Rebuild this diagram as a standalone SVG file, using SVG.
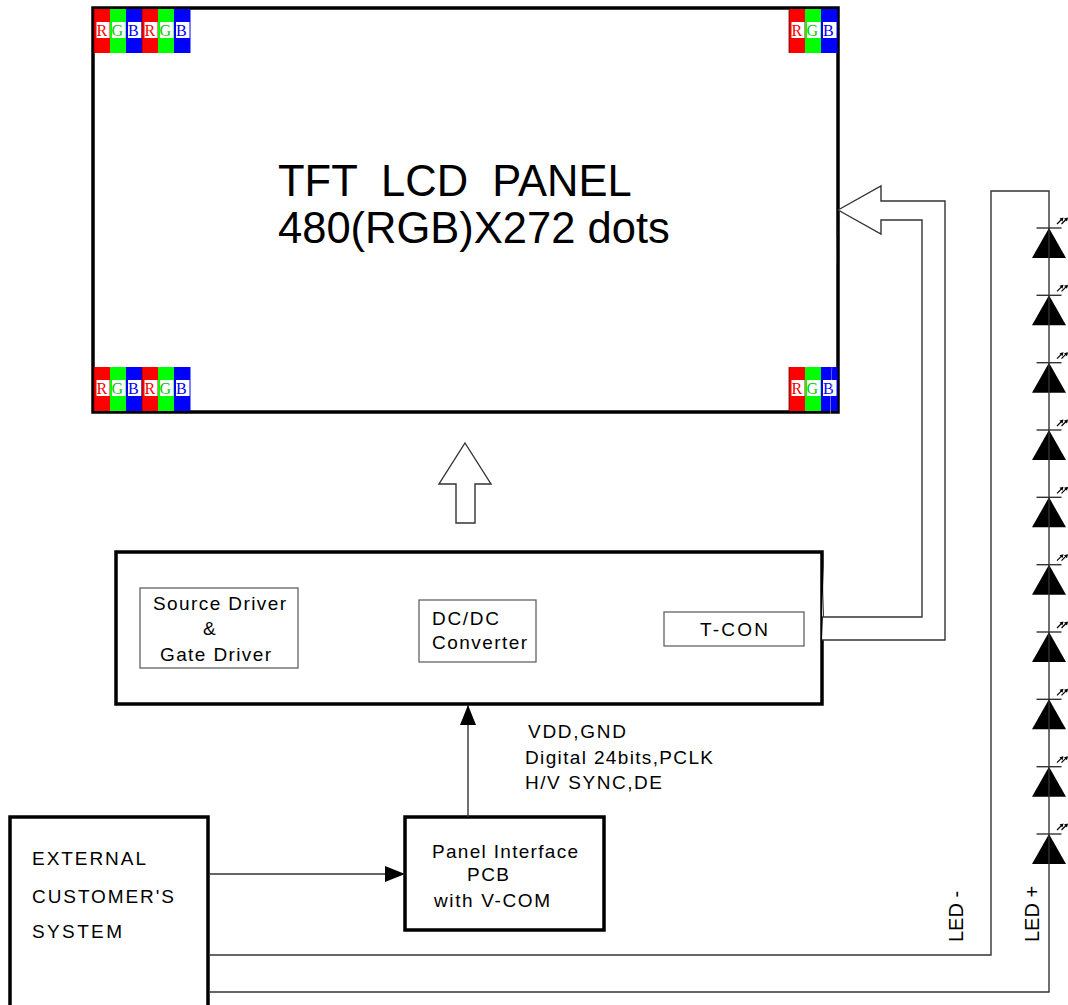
<svg xmlns="http://www.w3.org/2000/svg" xmlns:xlink="http://www.w3.org/1999/xlink" width="1068" height="1005" viewBox="0 0 1068 1005">
<style>
text{font-family:"Liberation Sans",Arial,sans-serif;fill:#000}
.t18{font-size:19px}
.big{font-size:43.5px;white-space:pre}
.led{font-size:20px}
.thick{fill:#fff;stroke:#000;stroke-width:3.5}
.thin{fill:#fff;stroke:#555;stroke-width:1.2}
.wire{fill:none;stroke:#333;stroke-width:1.4}
.hollow{fill:#fff;stroke:#333;stroke-width:1.4}
.px{font-family:"Liberation Serif","Times New Roman",serif;font-size:16px}
</style>
<defs>
<g id="rgb">
<rect x="0" y="0" width="16" height="44" fill="#f00"/>
<rect x="16" y="0" width="16" height="44" fill="#0f0"/>
<rect x="32" y="0" width="16.5" height="44" fill="#00f"/>
<rect x="2.5" y="13" width="13" height="16" fill="#fff"/>
<rect x="18" y="13" width="13.5" height="16" fill="#fff"/>
<rect x="34" y="13" width="13.5" height="16" fill="#fff"/>
<text class="px" x="2.5" y="27" style="fill:#f00">R</text>
<text class="px" x="17.5" y="27" style="fill:#0c0">G</text>
<text class="px" x="34" y="27" style="fill:#00f">B</text>
<line x1="0" y1="0" x2="0" y2="44" stroke="#600" stroke-width="0.8"/>
</g>
<g id="diode">
<line x1="-12.5" y1="0" x2="12.5" y2="0" stroke="#333" stroke-width="1.4"/>
<polygon points="0,0 -17,30 17,30" fill="#000"/>
<path d="M8,-4 L13.5,-9.5 M12.5,-4 L18,-9.5" stroke="#000" stroke-width="1.2" fill="none"/>
<path d="M14.5,-10.5 L10.5,-9.5 L13.5,-6.5 Z M19,-10.5 L15,-9.5 L18,-6.5 Z" fill="#000"/>
</g>
<marker id="ah" viewBox="0 0 20 16" refX="20" refY="8" markerWidth="20" markerHeight="16" markerUnits="userSpaceOnUse" orient="auto">
<path d="M0,0 L20,8 L0,16 Z" fill="#000"/>
</marker>
</defs>

<g id="panel">
<rect class="thick" x="93" y="8" width="745" height="404"/>
<use xlink:href="#rgb" x="94" y="9"/>
<use xlink:href="#rgb" x="142" y="9"/>
<use xlink:href="#rgb" x="789" y="9"/>
<use xlink:href="#rgb" x="94" y="367"/>
<use xlink:href="#rgb" x="142" y="367"/>
<use xlink:href="#rgb" x="789" y="367"/>
<text class="big" x="278" y="196" xml:space="preserve">TFT  LCD  PANEL</text>
<text class="big" x="278" y="243">480(RGB)X272 dots</text>
</g>

<g id="up-arrow">
<polygon class="hollow" points="465,443 491,484 475,484 475,523 456,523 456,484 439,484"/>
</g>

<g id="main-board">
<rect class="thick" x="116" y="552" width="706" height="152"/>
</g>
<g id="source-driver">
<rect class="thin" x="140" y="588" width="158" height="80"/>
<text class="t18" x="153" y="610" textLength="133" lengthAdjust="spacing">Source Driver</text>
<text class="t18" x="203" y="635">&amp;</text>
<text class="t18" x="160" y="661" textLength="111" lengthAdjust="spacing">Gate Driver</text>
</g>
<g id="dcdc">
<rect class="thin" x="419" y="600" width="117" height="62"/>
<text class="t18" x="432" y="625" textLength="67" lengthAdjust="spacing">DC/DC</text>
<text class="t18" x="432" y="649" textLength="95" lengthAdjust="spacing">Converter</text>
</g>
<g id="tcon">
<rect class="thin" x="664" y="612" width="140" height="34"/>
<text class="t18" x="700" y="636" textLength="68" lengthAdjust="spacing">T-CON</text>
</g>

<g id="pcb">
<rect class="thick" x="405" y="817" width="199" height="113"/>
<text class="t18" x="432" y="858" textLength="146" lengthAdjust="spacing">Panel Interface</text>
<text class="t18" x="467" y="881" textLength="42" lengthAdjust="spacing">PCB</text>
<text class="t18" x="434" y="907" textLength="116" lengthAdjust="spacing">with V-COM</text>
</g>

<g id="external">
<rect class="thick" x="10" y="817" width="198" height="200"/>
<text class="t18" x="32" y="865" textLength="114" lengthAdjust="spacing">EXTERNAL</text>
<text class="t18" x="32" y="903" textLength="142" lengthAdjust="spacing">CUSTOMER'S</text>
<text class="t18" x="32" y="938" textLength="90" lengthAdjust="spacing">SYSTEM</text>
</g>

<g id="signals">
<text class="t18" x="528" y="738" textLength="98" lengthAdjust="spacing">VDD,GND</text>
<text class="t18" x="525" y="764" textLength="188" lengthAdjust="spacing">Digital 24bits,PCLK</text>
<text class="t18" x="525" y="789" textLength="137" lengthAdjust="spacing">H/V SYNC,DE</text>
</g>

<g id="led-strip">
<use xlink:href="#diode" x="1049" y="228"/>
<use xlink:href="#diode" x="1049" y="295.3"/>
<use xlink:href="#diode" x="1049" y="362.7"/>
<use xlink:href="#diode" x="1049" y="430"/>
<use xlink:href="#diode" x="1049" y="497.3"/>
<use xlink:href="#diode" x="1049" y="564.7"/>
<use xlink:href="#diode" x="1049" y="632"/>
<use xlink:href="#diode" x="1049" y="699.3"/>
<use xlink:href="#diode" x="1049" y="766.7"/>
<use xlink:href="#diode" x="1049" y="834"/>
<text class="led" transform="translate(963,942) rotate(-90)">LED -</text>
<text class="led" transform="translate(1039,942) rotate(-90)">LED +</text>
</g>

<g id="connectors">
<path class="hollow" d="M838,210 L881,186 L881,201 L945,201 L945,640 L822,640 M822,617 L922,617 L922,220 L881,220 L881,234 L838,210"/>
<line class="wire" x1="468" y1="817" x2="468" y2="705" marker-end="url(#ah)"/>
<line class="wire" x1="209" y1="874" x2="405" y2="874" marker-end="url(#ah)"/>
<polyline class="wire" points="209,955 991,955 991,191 1049,191 1049,992 209,992" stroke="#555"/>
</g>
</svg>
